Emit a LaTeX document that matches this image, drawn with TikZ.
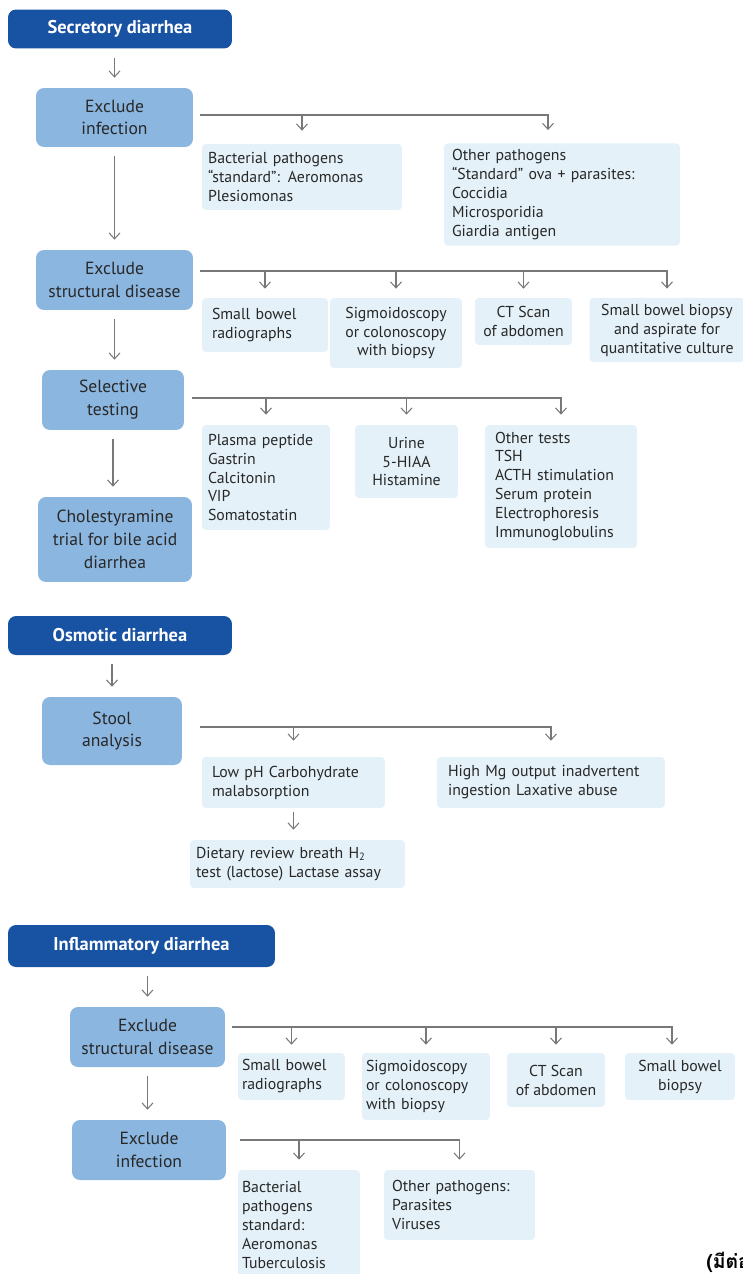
\documentclass[tikz,border=0pt]{standalone}
\usepackage{fontspec}
\setmainfont{PT Sans}
\newfontfamily\thaifont[Script=Thai]{Loma}
\usetikzlibrary{arrows.meta,positioning}
\definecolor{headblue}{RGB}{24,82,162}
\definecolor{stepblue}{RGB}{139,182,224}
\definecolor{infoblue}{RGB}{228,241,248}
\definecolor{linegray}{RGB}{120,120,120}
\definecolor{txtgray}{RGB}{40,40,40}
\begin{document}
\begin{tikzpicture}[x=0.02cm,y=-0.02cm,>={Straight Barb[length=0.12cm,width=0.22cm]}]
	\tikzset{head/.style={fill=headblue,text=white,font=\bfseries\fontsize{10.5}{12}\selectfont,rounded corners=0.16cm,minimum height=0.78cm},
		stepbox/.style={fill=stepblue,text=txtgray,align=center,font=\fontsize{10}{13}\selectfont,rounded corners=0.16cm},
		info/.style={fill=infoblue,text=txtgray,font=\fontsize{9}{10.8}\selectfont,rounded corners=0.08cm},
		arr/.style={draw=linegray,line width=0.6pt,->},
		down/.style={arr,shorten <=0.18cm,shorten >=0.2cm}}
	\clip (0,0) rectangle (743,1274);
	% secretory
	\node [head,minimum width=4.48cm] (sec) at (120,29) {Secretory diarrhea};
	\node [stepbox,minimum width=3.14cm,minimum height=1.18cm] (inf1) at (114.5,117.5) {Exclude\\infection};
	\node [info,align=left,text width=3.76cm,inner xsep=0.12cm,minimum height=1.32cm] (bact1) at (302,177) {Bacterial pathogens\\``standard'': Aeromonas\\Plesiomonas};
	\node [info,align=left,text width=4.4cm,inner xsep=0.16cm,minimum height=2.02cm] (oth1) at (562,194.5) {Other pathogens\\``Standard'' ova + parasites:\\Coccidia\\Microsporidia\\Giardia antigen};
	\node [stepbox,minimum width=3.14cm,minimum height=1.2cm] (str1) at (114.5,280) {Exclude\\structural disease};
	\node [info,align=left,text width=2.12cm,inner xsep=0.2cm,minimum height=1.08cm] (rad1) at (265,325) {Small bowel\\radiographs};
	\node [info,align=center,minimum width=2.64cm,minimum height=1.4cm] (sig1) at (396,333) {Sigmoidoscopy\\or colonoscopy\\with biopsy};
	\node [info,align=center,minimum width=1.94cm,minimum height=0.94cm] (ct1) at (523.5,321.5) {CT Scan\\of abdomen};
	\node [info,align=center,minimum width=3.1cm,minimum height=1.28cm] (bio1) at (667,330) {Small bowel biopsy\\and aspirate for\\quantitative culture};
	\node [stepbox,minimum width=2.84cm,minimum height=1.2cm] (sel1) at (113,400) {Selective\\testing};
	\node [info,align=left,text width=2.32cm,inner xsep=0.12cm,minimum height=2.1cm] (pla1) at (266,477.5) {Plasma peptide\\Gastrin\\Calcitonin\\VIP\\Somatostatin};
	\node [info,align=center,minimum width=2.06cm,minimum height=1.46cm] (uri1) at (406.5,461.5) {Urine\\5-HIAA\\Histamine};
	\node [info,align=left,text width=2.64cm,inner xsep=0.2cm,minimum height=2.46cm] (tst1) at (561,486.5) {Other tests\\TSH\\ACTH stimulation\\Serum protein\\Electrophoresis\\Immunoglobulins};
	\node [stepbox,minimum width=3.08cm,minimum height=1.7cm] (cho1) at (115,539.5) {Cholestyramine\\trial for bile acid\\diarrhea};
	\draw [down] (inf1.north |- sec.south) -- (inf1.north);
	\draw [down] (inf1.south) -- (inf1.south |- str1.north);
	\draw [down] (str1.south) -- (str1.south |- sel1.north);
	\draw [down] (sel1.south) -- (sel1.south |- cho1.north);
	\coordinate (b1) at ([xshift=0.14cm,yshift=0.05cm]inf1.east);
	\draw [arr] (b1) -| ([xshift=-0.28cm,yshift=0.26cm]oth1.north);
	\draw [arr] (b1 -| bact1.north) -- ([yshift=0.26cm]bact1.north);
	\coordinate (b2) at ([xshift=0.14cm,yshift=0.18cm]str1.east);
	\draw [arr] (b2) -| ([yshift=0.18cm]bio1.north);
	\draw [arr] (b2 -| rad1.north) -- ([yshift=0.18cm]rad1.north);
	\draw [arr] (b2 -| sig1.north) -- ([yshift=0.18cm]sig1.north);
	\draw [arr] (b2 -| ct1.north) -- ([yshift=0.18cm]ct1.north);
	\coordinate (b3) at ([xshift=0.16cm,yshift=0.04cm]sel1.east);
	\draw [arr] (b3) -| ([yshift=0.2cm]tst1.north);
	\draw [arr] (b3 -| pla1.north) -- ([yshift=0.2cm]pla1.north);
	\draw [arr] (b3 -| uri1.north) -- ([yshift=0.2cm]uri1.north);
	% osmotic
	\node [head,minimum width=4.48cm] (osm) at (120,635.5) {Osmotic diarrhea};
	\node [stepbox,minimum width=2.8cm,minimum height=1.36cm] (sto) at (112,731) {Stool\\analysis};
	\node [info,align=left,text width=3.26cm,inner xsep=0.2cm,minimum height=1.02cm] (low) at (293.5,782.5) {Low pH Carbohydrate\\malabsorption};
	\node [info,align=left,text width=4.12cm,inner xsep=0.22cm,minimum height=1.02cm] (mg) at (551,782.5) {High Mg output inadvertent\\ingestion Laxative abuse};
	\node [info,align=left,text width=4.06cm,inner xsep=0.12cm,minimum height=0.96cm] (die) at (297.5,864) {Dietary review breath H\textsubscript{2}\\test (lactose) Lactase assay};
	\draw [down] (sto.north |- osm.south) -- (sto.north);
	\coordinate (b4) at ([xshift=0.36cm,yshift=0.08cm]sto.east);
	\draw [arr] (b4) -| ([yshift=0.32cm]mg.north);
	\draw [arr] (b4 -| low.north) -- ([yshift=0.32cm]low.north);
	\draw [arr,shorten <=0.08cm,shorten >=0.2cm] (low.south) -- (low.south |- die.north);
	% inflammatory
	\node [head,minimum width=5.34cm,minimum height=0.84cm] (infl) at (141.5,946) {Inflammatory diarrhea};
	\node [stepbox,minimum width=3.1cm,minimum height=1.2cm] (str3) at (147.5,1037) {Exclude\\structural disease};
	\node [info,align=left,text width=1.98cm,inner xsep=0.08cm,minimum height=0.94cm] (rad3) at (291.5,1076.5) {Small bowel\\radiographs};
	\node [info,align=left,text width=2.4cm,inner xsep=0.08cm,minimum height=1.34cm] (sig3) at (426,1086.5) {Sigmoidoscopy\\or colonoscopy\\with biopsy};
	\node [info,align=center,minimum width=1.96cm,minimum height=1.08cm] (ct3) at (556,1080) {CT Scan\\of abdomen};
	\node [info,align=center,minimum width=2.2cm,minimum height=0.94cm] (bio3) at (680,1076.5) {Small bowel\\biopsy};
	\node [stepbox,minimum width=3.08cm,minimum height=1.2cm] (inf3) at (149,1150) {Exclude\\infection};
	\node [info,align=left,text width=2.28cm,inner xsep=0.08cm,minimum height=2.2cm] (bac3) at (299,1225) {Bacterial\\pathogens\\standard:\\Aeromonas\\Tuberculosis};
	\node [info,align=left,text width=2.7cm,inner xsep=0.16cm,minimum height=1.4cm] (oth3) at (459.5,1205) {Other pathogens:\\Parasites\\Viruses};
	\draw [down] (str3.north |- infl.south) -- (str3.north);
	\draw [down] (str3.south) -- (str3.south |- inf3.north);
	\coordinate (b5) at ([xshift=0.14cm,yshift=0.2cm]str3.east);
	\draw [arr] (b5) -| ([xshift=-0.16cm,yshift=0.16cm]bio3.north);
	\draw [arr] (b5 -| rad3.north) -- ([yshift=0.16cm]rad3.north);
	\draw [arr] (b5 -| sig3.north) -- ([yshift=0.16cm]sig3.north);
	\draw [arr] (b5 -| ct3.north) -- ([yshift=0.16cm]ct3.north);
	\coordinate (b6) at ([xshift=0.28cm,yshift=0.2cm]inf3.east);
	\draw [arr] (b6) -| ([yshift=0.2cm]oth3.north);
	\draw [arr] (b6 -| bac3.north) -- ([yshift=0.2cm]bac3.north);
	\node [anchor=base west,font=\thaifont\bfseries\fontsize{11}{13}\selectfont,inner sep=0pt] (cont) at (706,1268) {(มีต่อ)};
\end{tikzpicture}
\end{document}
